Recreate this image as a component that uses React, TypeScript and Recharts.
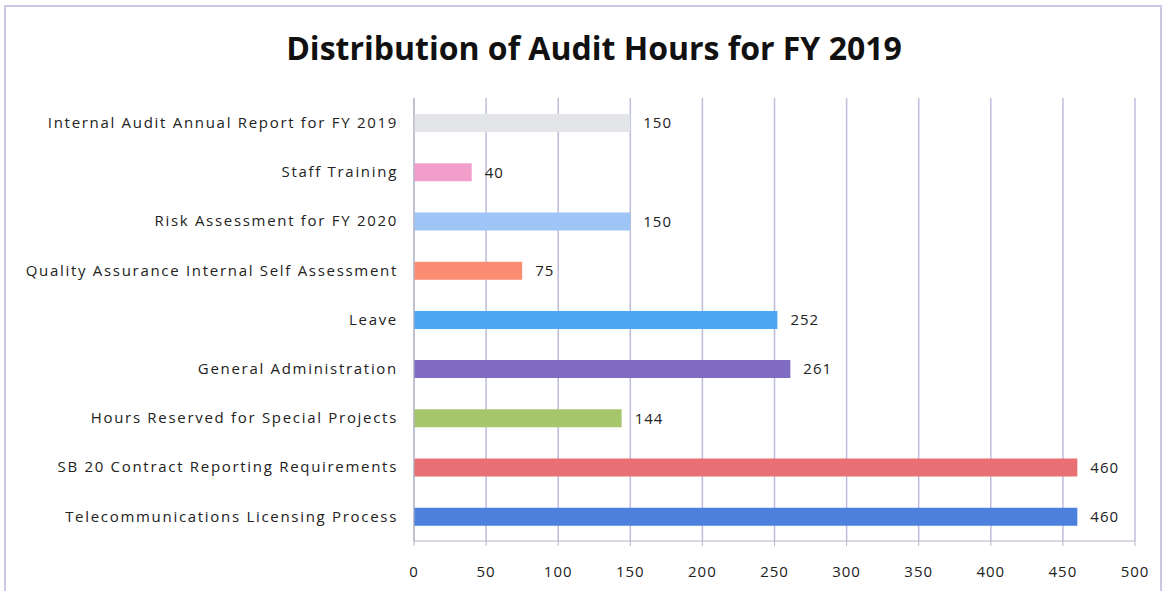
import { Bar, BarChart, CartesianGrid, Cell, LabelList, XAxis, YAxis } from "recharts";

const categories = [
    "Internal Audit Annual Report for FY 2019",
    "Staff Training",
    "Risk Assessment for FY 2020",
    "Quality Assurance Internal Self Assessment",
    "Leave",
    "General Administration",
    "Hours Reserved for Special Projects",
    "SB 20 Contract Reporting Requirements",
    "Telecommunications Licensing Process",
];
const hours = [150, 40, 150, 75, 252, 261, 144, 460, 460];
const barColors = ["#e3e5e8", "#f29ecb", "#9fc4f6", "#fc8d72", "#4da5f2", "#7f6cc2", "#a6c66c", "#e86f74", "#4b80dd"];
const xTicks = [0, 50, 100, 150, 200, 250, 300, 350, 400, 450, 500];

const font = "'Open Sans', sans-serif";

export default function App() {
    const chartData = categories.map((name, i) => ({ name, hours: hours[i] }));

    return (
        <div style={{ position: "absolute", left: 0, top: 0, width: 1166, height: 591, background: "#fff", overflow: "hidden" }}>
            <div
                style={{
                    position: "absolute",
                    left: 4,
                    top: 5,
                    width: 1158,
                    height: 600,
                    border: "2px solid #c9c9e3",
                    boxSizing: "border-box",
                }}
            />
            <div
                style={{
                    position: "absolute",
                    left: 0,
                    top: 26,
                    width: 1188,
                    textAlign: "center",
                    fontFamily: font,
                    fontWeight: 700,
                    fontSize: 32,
                    color: "#111",
                    letterSpacing: 0,
                }}
            >
                Distribution of Audit Hours for FY 2019
            </div>
            <div style={{ position: "absolute", left: 0, top: 0 }}>
                <BarChart
                    width={1166}
                    height={591}
                    data={chartData}
                    layout="vertical"
                    margin={{ top: 98, right: 31, bottom: 0, left: 0 }}
                    barSize={18}
                >
                    <CartesianGrid horizontal={false} stroke="#bcbcdc" strokeWidth={1.5} />
                    <XAxis
                        type="number"
                        domain={[0, 500]}
                        ticks={xTicks}
                        height={50}
                        tickSize={5}
                        tickMargin={20}
                        tick={{ fill: "#222", fontSize: 15, fontFamily: font, letterSpacing: 1 }}
                        axisLine={{ stroke: "#b5b5c5" }}
                        tickLine={{ stroke: "#b5b5c5" }}
                    />
                    <YAxis
                        type="category"
                        dataKey="name"
                        width={414}
                        tickSize={0}
                        tickMargin={16}
                        tick={{ fill: "#222", fontSize: 15, fontFamily: font, letterSpacing: 1.7 }}
                        axisLine={{ stroke: "#b5b5c5" }}
                    />
                    <Bar dataKey="hours" isAnimationActive={false}>
                        {chartData.map((d, i) => (
                            <Cell key={d.name} fill={barColors[i]} />
                        ))}
                        <LabelList
                            dataKey="hours"
                            position="right"
                            offset={13}
                            fill="#222"
                            fontSize={15}
                            fontFamily={font}
                            letterSpacing={1}
                        />
                    </Bar>
                </BarChart>
            </div>
        </div>
    );
}
